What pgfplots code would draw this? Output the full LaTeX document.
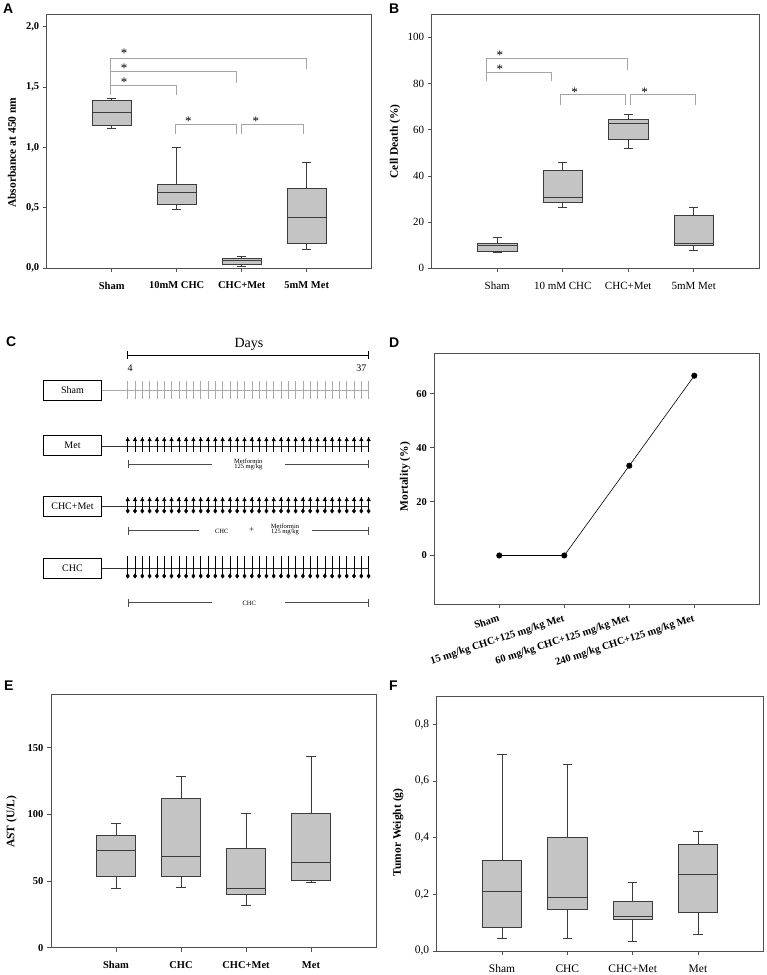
\documentclass[border=0pt]{standalone}
\usepackage{fontspec}
\setmainfont{Liberation Serif}
\newfontfamily\lettersf{Liberation Sans}
\usepackage{pgfplots}
\usepackage{pgfplotstable}
\usepgfplotslibrary{statistics}
\pgfplotsset{compat=1.18}

\definecolor{boxfill}{RGB}{196,196,196}
\definecolor{boxedge}{RGB}{60,60,60}
\definecolor{frame}{RGB}{80,80,80}
\definecolor{brk}{RGB}{165,165,165}
\definecolor{ltick}{RGB}{170,170,170}

\newcommand{\fs}[1]{\fontsize{#1}{#1}\selectfont}

\tikzset{sigstar/.style={font=\fs{13}}}
\pgfplotsset{
  panel/.style={
    scale only axis, xmin=0, xmax=5, xtick={1,2,3,4},
    axis line style={draw=frame, line width=0.9pt},
    tick style={draw=frame, line width=0.7pt},
    major tick length=4pt, tick align=outside, tick pos=left,
    clip=false,
    /pgf/number format/assume math mode=true,
    xticklabel style={yshift=-6pt},
  },
  bx/.style={boxplot prepared={draw direction=y, #1, box extend=0.6, whisker extend=0.14},
    fill=boxfill, draw=boxedge, line width=0.7pt, solid},
  brack/.style={brk, line width=0.8pt},
  cline/.style={black!70, line width=0.6pt},
}

% Panel C dose timeline: day positions
\pgfplotstableread{
x a b c d e f g h
127.7 -390.2 -444.5 -439.8 -504 -499.8 -511 -566 -576
135.0 -390.2 -444.5 -439.8 -504 -499.8 -511 -566 -576
142.3 -390.2 -444.5 -439.8 -504 -499.8 -511 -566 -576
149.6 -390.2 -444.5 -439.8 -504 -499.8 -511 -566 -576
156.9 -390.2 -444.5 -439.8 -504 -499.8 -511 -566 -576
164.2 -390.2 -444.5 -439.8 -504 -499.8 -511 -566 -576
171.5 -390.2 -444.5 -439.8 -504 -499.8 -511 -566 -576
178.8 -390.2 -444.5 -439.8 -504 -499.8 -511 -566 -576
186.1 -390.2 -444.5 -439.8 -504 -499.8 -511 -566 -576
193.4 -390.2 -444.5 -439.8 -504 -499.8 -511 -566 -576
200.7 -390.2 -444.5 -439.8 -504 -499.8 -511 -566 -576
208.0 -390.2 -444.5 -439.8 -504 -499.8 -511 -566 -576
215.3 -390.2 -444.5 -439.8 -504 -499.8 -511 -566 -576
222.6 -390.2 -444.5 -439.8 -504 -499.8 -511 -566 -576
229.9 -390.2 -444.5 -439.8 -504 -499.8 -511 -566 -576
237.2 -390.2 -444.5 -439.8 -504 -499.8 -511 -566 -576
244.5 -390.2 -444.5 -439.8 -504 -499.8 -511 -566 -576
251.8 -390.2 -444.5 -439.8 -504 -499.8 -511 -566 -576
259.1 -390.2 -444.5 -439.8 -504 -499.8 -511 -566 -576
266.4 -390.2 -444.5 -439.8 -504 -499.8 -511 -566 -576
273.7 -390.2 -444.5 -439.8 -504 -499.8 -511 -566 -576
281.0 -390.2 -444.5 -439.8 -504 -499.8 -511 -566 -576
288.3 -390.2 -444.5 -439.8 -504 -499.8 -511 -566 -576
295.6 -390.2 -444.5 -439.8 -504 -499.8 -511 -566 -576
302.9 -390.2 -444.5 -439.8 -504 -499.8 -511 -566 -576
310.2 -390.2 -444.5 -439.8 -504 -499.8 -511 -566 -576
317.5 -390.2 -444.5 -439.8 -504 -499.8 -511 -566 -576
324.8 -390.2 -444.5 -439.8 -504 -499.8 -511 -566 -576
332.1 -390.2 -444.5 -439.8 -504 -499.8 -511 -566 -576
339.4 -390.2 -444.5 -439.8 -504 -499.8 -511 -566 -576
346.7 -390.2 -444.5 -439.8 -504 -499.8 -511 -566 -576
354.0 -390.2 -444.5 -439.8 -504 -499.8 -511 -566 -576
361.3 -390.2 -444.5 -439.8 -504 -499.8 -511 -566 -576
368.6 -390.2 -444.5 -439.8 -504 -499.8 -511 -566 -576
}\Cdays

\begin{document}
\begin{tikzpicture}
\path[use as bounding box] (0pt,0pt) rectangle (767pt,-975pt);

% panel letters
\begin{scope}[every node/.style={anchor=north west, inner sep=0, font=\lettersf\bfseries\fs{14}}]
\node at (3pt,-4pt) {A};
\node at (389pt,-4pt) {B};
\node at (6pt,-337pt) {C};
\node at (389pt,-338pt) {D};
\node at (4pt,-681pt) {E};
\node at (389pt,-681pt) {F};
\end{scope}

% ---------------- A ----------------
\begin{axis}[panel, at={(46.7pt,-14.3pt)}, anchor=north west, width=325pt, height=254pt,
  ymin=0, ymax=2.1, ytick={0,0.5,1,1.5,2},
  yticklabel style={/pgf/number format/.cd, use comma, fixed, fixed zerofill, precision=1},
  tick label style={font=\bfseries\fs{10.5}},
  xticklabels={Sham, 10mM CHC, CHC+Met, 5mM Met},
  ylabel={Absorbance at 450 nm},
  ylabel style={font=\bfseries\fs{11.5}, at={(axis description cs:-0.107,0.455)}, anchor=center},
]
\addplot[bx={draw position=1, lower whisker=1.161, lower quartile=1.183, median=1.288, upper quartile=1.389, upper whisker=1.408}] coordinates {};
\addplot[bx={draw position=2, lower whisker=0.49, lower quartile=0.53, median=0.63, upper quartile=0.69, upper whisker=1.00}] coordinates {};
\addplot[bx={draw position=3, lower whisker=0.015, lower quartile=0.035, median=0.065, upper quartile=0.085, upper whisker=0.095}] coordinates {};
\addplot[bx={draw position=4, lower whisker=0.16, lower quartile=0.205, median=0.42, upper quartile=0.665, upper whisker=0.88}] coordinates {};
\addplot[brack] coordinates {(0.985,1.430) (0.985,1.733) (3.99,1.733) (3.99,1.651)};
\addplot[brack] coordinates {(0.985,1.629) (2.924,1.629) (2.924,1.535)};
\addplot[brack] coordinates {(0.985,1.516) (2.0,1.516) (2.0,1.430)};
\addplot[brack] coordinates {(1.983,1.114) (1.983,1.188) (2.924,1.188) (2.924,1.114)};
\addplot[brack] coordinates {(2.997,1.114) (2.997,1.188) (3.949,1.188) (3.949,1.114)};
\node[sigstar] at (axis cs:1.19,1.775) {*};
\node[sigstar] at (axis cs:1.19,1.652) {*};
\node[sigstar] at (axis cs:1.19,1.542) {*};
\node[sigstar] at (axis cs:2.18,1.217) {*};
\node[sigstar] at (axis cs:3.22,1.217) {*};
\end{axis}

% ---------------- B ----------------
\begin{axis}[panel, at={(431.7pt,-14.3pt)}, anchor=north west, width=327.6pt, height=254pt,
  ymin=0, ymax=110, ytick={0,20,40,60,80,100},
  tick label style={font=\fs{11}},
  xticklabels={Sham, 10 mM CHC, CHC+Met, 5mM Met},
  ylabel={Cell Death (\%)},
  ylabel style={font=\bfseries\fs{11.5}, at={(axis description cs:-0.112,0.5)}, anchor=center},
]
\addplot[bx={draw position=1, lower whisker=7.0, lower quartile=7.5, median=10.1, upper quartile=10.8, upper whisker=13.4}] coordinates {};
\addplot[bx={draw position=2, lower whisker=26.3, lower quartile=28.5, median=30.8, upper quartile=42.5, upper whisker=45.8}] coordinates {};
\addplot[bx={draw position=3, lower whisker=51.9, lower quartile=55.9, median=62.9, upper quartile=64.7, upper whisker=66.8}] coordinates {};
\addplot[bx={draw position=4, lower whisker=7.8, lower quartile=9.8, median=10.7, upper quartile=23.0, upper whisker=26.6}] coordinates {};
\addplot[brack] coordinates {(0.837,80.9) (0.837,90.9) (2.988,90.9) (2.988,86.0)};
\addplot[brack] coordinates {(0.837,85.0) (1.829,85.0) (1.829,80.9)};
\addplot[brack] coordinates {(1.966,70.8) (1.966,75.3) (2.957,75.3) (2.957,70.8)};
\addplot[brack] coordinates {(3.033,70.8) (3.033,75.3) (4.025,75.3) (4.025,70.8)};
\node[sigstar] at (axis cs:1.04,92.1) {*};
\node[sigstar] at (axis cs:1.04,86.3) {*};
\node[sigstar] at (axis cs:2.18,76.2) {*};
\node[sigstar] at (axis cs:3.25,76.2) {*};
\end{axis}

% ---------------- C (timeline diagram) ----------------
\begin{axis}[hide axis, scale only axis, width=390pt, height=290pt,
  xmin=0, xmax=390, ymin=-610, ymax=-320, at={(0pt,-320pt)}, anchor=north west, clip=false]
% Days bar
\addplot[black, line width=1pt] coordinates {(127.7,-355) (368.3,-355)};
\addplot[black, line width=1pt] coordinates {(127.7,-351.3) (127.7,-359.3)};
\addplot[black, line width=1pt] coordinates {(368.3,-351.3) (368.3,-359.3)};
\node[font=\fs{14}] at (axis cs:249,-344) {Days};
\node[font=\fs{10}, anchor=base] at (axis cs:130,-371) {4};
\node[font=\fs{10}, anchor=base east] at (axis cs:370,-371) {37};
% group boxes
\addplot[black, line width=0.9pt] coordinates {(43.3,-380) (101.7,-380) (101.7,-400) (43.3,-400) (43.3,-380)};
\addplot[black, line width=0.9pt] coordinates {(43.3,-435.7) (101.7,-435.7) (101.7,-455.7) (43.3,-455.7) (43.3,-435.7)};
\addplot[black, line width=0.9pt] coordinates {(43.3,-496.7) (101.7,-496.7) (101.7,-516.7) (43.3,-516.7) (43.3,-496.7)};
\addplot[black, line width=0.9pt] coordinates {(43.3,-558.3) (101.7,-558.3) (101.7,-578.3) (43.3,-578.3) (43.3,-558.3)};
\node[font=\fs{10}] at (axis cs:72.5,-390) {Sham};
\node[font=\fs{10}] at (axis cs:72.5,-445.7) {Met};
\node[font=\fs{10}] at (axis cs:72.5,-506.7) {CHC+Met};
\node[font=\fs{10}] at (axis cs:72.5,-568.3) {CHC};
% row lines
\addplot[ltick, line width=0.7pt] coordinates {(101.7,-390.2) (368.6,-390.2)};
\addplot[black!80, line width=0.7pt] coordinates {(101.7,-446) (368.6,-446)};
\addplot[black!80, line width=0.7pt] coordinates {(101.7,-506) (368.6,-506)};
\addplot[black!80, line width=0.7pt] coordinates {(101.7,-568.3) (368.6,-568.3)};
% Sham ticks
\addplot[only marks, mark=|, mark size=9.2pt, mark options={draw=ltick, line width=0.5pt}] table[x=x,y=a] {\Cdays};
% Met ticks + arrows
\addplot[only marks, mark=|, mark size=7.5pt, mark options={draw=black, line width=0.5pt}] table[x=x,y=b] {\Cdays};
\addplot[only marks, mark=triangle*, mark size=2pt, mark options={fill=black, draw=black}] table[x=x,y=c] {\Cdays};
% CHC+Met ticks + arrows + diamonds
\addplot[only marks, mark=|, mark size=7pt, mark options={draw=black, line width=0.5pt}] table[x=x,y=d] {\Cdays};
\addplot[only marks, mark=triangle*, mark size=2pt, mark options={fill=black, draw=black}] table[x=x,y=e] {\Cdays};
\addplot[only marks, mark=diamond*, mark size=2.2pt, mark options={fill=black, draw=black}] table[x=x,y=f] {\Cdays};
% CHC ticks + diamonds
\addplot[only marks, mark=|, mark size=10pt, mark options={draw=black, line width=0.5pt}] table[x=x,y=g] {\Cdays};
\addplot[only marks, mark=diamond*, mark size=2.2pt, mark options={fill=black, draw=black}] table[x=x,y=h] {\Cdays};
% treatment brackets
\addplot[cline] coordinates {(128,-464) (211.7,-464)};
\addplot[cline] coordinates {(285,-464) (368.3,-464)};
\addplot[cline] coordinates {(128,-460) (128,-468)};
\addplot[cline] coordinates {(368.3,-460) (368.3,-468)};
\node[font=\fs{6.5}, align=center, inner sep=0] at (axis cs:248.3,-464.5) {Metformin\\[-1pt]125 mg/kg};
\addplot[cline] coordinates {(128,-530.7) (199.3,-530.7)};
\addplot[cline] coordinates {(311.7,-530.7) (368.3,-530.7)};
\addplot[cline] coordinates {(128,-526.7) (128,-534.7)};
\addplot[cline] coordinates {(368.3,-526.7) (368.3,-534.7)};
\node[font=\fs{6.5}] at (axis cs:221.7,-531.5) {CHC};
\node[font=\fs{9}] at (axis cs:251.7,-529.5) {+};
\node[font=\fs{6.5}, align=center, inner sep=0] at (axis cs:285,-529.5) {Metformin\\[-1pt]125 mg/kg};
\addplot[cline] coordinates {(128.3,-602.7) (211.7,-602.7)};
\addplot[cline] coordinates {(285,-602.7) (368.3,-602.7)};
\addplot[cline] coordinates {(128.3,-598.7) (128.3,-606.7)};
\addplot[cline] coordinates {(368.3,-598.7) (368.3,-606.7)};
\node[font=\fs{6.5}] at (axis cs:249.3,-603.5) {CHC};
\end{axis}

% ---------------- D ----------------
\begin{axis}[panel, at={(434.3pt,-353.3pt)}, anchor=north west, width=325pt, height=250.7pt,
  ymin=-18, ymax=75, ytick={0,20,40,60},
  tick label style={font=\bfseries\fs{10.5}},
  xticklabels={Sham, 15 mg/kg CHC+125 mg/kg Met, 60 mg/kg CHC+125 mg/kg Met, 240 mg/kg CHC+125 mg/kg Met},
  xticklabel style={rotate=18, anchor=north east, yshift=4pt, xshift=2pt},
  ylabel={Mortality (\%)},
  ylabel style={font=\bfseries\fs{11.5}, at={(axis description cs:-0.09,0.508)}, anchor=center},
]
\addplot[black, line width=0.6pt, mark=*, mark size=2.7pt] coordinates {(1,0) (2,0) (3,33.3) (4,66.7)};
\end{axis}

% ---------------- E ----------------
\begin{axis}[panel, at={(51pt,-694.3pt)}, anchor=north west, width=325pt, height=253.4pt,
  ymin=0, ymax=190, ytick={0,50,100,150},
  tick label style={font=\bfseries\fs{10.5}},
  xticklabels={Sham, CHC, CHC+Met, Met},
  ylabel={AST (U/L)},
  ylabel style={font=\bfseries\fs{11.5}, at={(axis description cs:-0.121,0.497)}, anchor=center},
]
\addplot[bx={draw position=1, lower whisker=44.6, lower quartile=53.3, median=73.2, upper quartile=84.4, upper whisker=93.4}] coordinates {};
\addplot[bx={draw position=2, lower whisker=45.6, lower quartile=53.3, median=68.6, upper quartile=112.2, upper whisker=128.2}] coordinates {};
\addplot[bx={draw position=3, lower whisker=31.5, lower quartile=40.1, median=44.3, upper quartile=74.7, upper whisker=100.7}] coordinates {};
\addplot[bx={draw position=4, lower whisker=48.8, lower quartile=50.6, median=63.9, upper quartile=101.0, upper whisker=143.5}] coordinates {};
\end{axis}

% ---------------- F ----------------
\begin{axis}[panel, at={(436.7pt,-696pt)}, anchor=north west, width=326.6pt, height=255pt,
  ymin=0, ymax=0.9, ytick={0,0.2,0.4,0.6,0.8},
  yticklabel style={/pgf/number format/.cd, use comma, fixed, fixed zerofill, precision=1},
  tick label style={font=\fs{11.5}},
  xticklabels={Sham, CHC, CHC+Met, Met},
  ylabel={Tumor Weight (g)},
  ylabel style={font=\bfseries\fs{11.5}, at={(axis description cs:-0.118,0.465)}, anchor=center},
]
\addplot[bx={draw position=1, lower whisker=0.046, lower quartile=0.0835, median=0.209, upper quartile=0.319, upper whisker=0.695}] coordinates {};
\addplot[bx={draw position=2, lower whisker=0.045, lower quartile=0.147, median=0.191, upper quartile=0.401, upper whisker=0.659}] coordinates {};
\addplot[bx={draw position=3, lower whisker=0.034, lower quartile=0.111, median=0.124, upper quartile=0.175, upper whisker=0.241}] coordinates {};
\addplot[bx={draw position=4, lower whisker=0.059, lower quartile=0.136, median=0.271, upper quartile=0.378, upper whisker=0.421}] coordinates {};
\end{axis}
\end{tikzpicture}
\end{document}
